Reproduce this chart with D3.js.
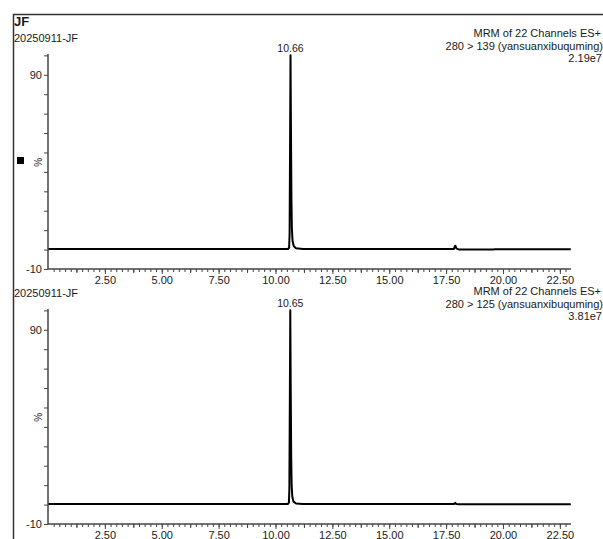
<!DOCTYPE html>
<html>
<head>
<meta charset="utf-8">
<script src="https://cdn.jsdelivr.net/npm/d3@7/dist/d3.min.js"></script>
<style>
  html, body { margin: 0; padding: 0; background: #fff; }
  svg { display: block; font-family: "Liberation Sans", Arial, sans-serif; }
</style>
</head>
<body>
<svg id="chart" width="603" height="539"></svg>
<script>
// Sample header
const sampleTitle = "JF";
const sampleName = "20250911-JF";

// Channel descriptions, one per trace
const channelHeads = ["MRM of 22 Channels ES+", "MRM of 22 Channels ES+"];
const channelTransitions = ["280 > 139 (yansuanxibuquming)", "280 > 125 (yansuanxibuquming)"];
const channelMaxima = ["2.19e7", "3.81e7"];
const peakLabels = ["10.66", "10.65"];
const peakTimes = [10.66, 10.65];

// Trace 1: retention time (min) and relative intensity (%)
const trace1Time = [0.02, 10.55, 10.60, 10.62, 10.64, 10.66, 10.68, 10.70, 10.72, 10.75, 10.80, 10.90, 11.20, 17.84, 17.88, 17.91, 17.95, 18.05, 19.60, 19.63, 22.98];
const trace1Pct  = [0.3,  0.3,   1.0,   8.0,   52,    100,   62,    27,    11,    4.5,   1.8,   0.7,   0.3,   0.3,   1.6,   2.0,   0.6,   0.1,   0.1,   0.2,   0.2];

// Trace 2: retention time (min) and relative intensity (%)
const trace2Time = [0.02, 10.54, 10.59, 10.61, 10.63, 10.65, 10.67, 10.69, 10.71, 10.74, 10.79, 10.90, 11.20, 17.85, 17.90, 17.95, 18.05, 22.98];
const trace2Pct  = [0.3,  0.3,   1.0,   8.0,   52,    100,   60,    25,    10,    4.0,   1.5,   0.6,   0.3,   0.3,   0.9,   0.3,   0.2,   0.2];

// Axis ticks
const xMajorTicks = [2.5, 5, 7.5, 10, 12.5, 15, 17.5, 20, 22.5];
const xMidTicks = [1.25, 3.75, 6.25, 8.75, 11.25, 13.75, 16.25, 18.75, 21.25];
const xMinorTicks = d3.range(0.25, 23.0, 0.25);
const yTicks = [-10, 0, 10, 20, 30, 40, 50, 60, 70, 80, 90, 100];
const yLabelled = [-10, 90];

const traces = [
  { time: trace1Time, pct: trace1Pct },
  { time: trace2Time, pct: trace2Pct }
];

const svg = d3.select("#chart");
const ink = "#1a1a1a";

// Outer frame (top and left edges)
svg.append("path")
  .attr("d", "M13.5,540 L13.5,14.5 L604,14.5")
  .attr("fill", "none")
  .attr("stroke", "#333")
  .attr("stroke-width", 1.5);

svg.append("text")
  .attr("x", 14).attr("y", 26)
  .attr("font-size", 13).attr("font-weight", "bold").attr("fill", ink)
  .text(sampleTitle);

// Marker square beside the first panel
svg.append("rect")
  .attr("x", 17).attr("y", 157).attr("width", 7).attr("height", 7)
  .attr("fill", "#000");

const x = d3.scaleLinear().domain([0, 22.99]).range([48, 571]);
const panelOffsets = [0, 255];
const headerShift = [0, 3];

traces.forEach((tr, i) => {
  const off = panelOffsets[i];
  const hs = off + headerShift[i];
  const y = d3.scaleLinear().domain([-10, 100.7]).range([269 + off, 54 + off]);
  const g = svg.append("g");

  // Headers
  g.append("text")
    .attr("x", 14).attr("y", 42 + off)
    .attr("font-size", 11).attr("fill", ink)
    .text(sampleName);

  const right = g.append("g").attr("font-size", 11).attr("fill", ink).attr("text-anchor", "end");
  right.append("text").attr("x", 601).attr("y", 37 + hs).text(channelHeads[i]);
  right.append("text").attr("x", 603).attr("y", 50 + hs).text(channelTransitions[i]);
  right.append("text").attr("x", 602).attr("y", 62 + hs).text(channelMaxima[i]);

  // Y axis
  const yAxis = d3.axisLeft(y)
    .tickValues(yTicks)
    .tickSize(4)
    .tickPadding(2)
    .tickFormat(d => yLabelled.includes(d) ? String(d) : "");
  const ya = g.append("g").attr("transform", `translate(${x.range()[0]},0)`).call(yAxis);
  ya.select(".domain").attr("d", `M0,${y(-10)}V${y(100.7)}`);

  g.append("text")
    .attr("transform", `translate(${39},${y(45)}) rotate(-90)`)
    .attr("text-anchor", "middle").attr("dominant-baseline", "middle")
    .attr("font-size", 10).attr("fill", ink)
    .text("%");

  // X axis: minor, mid and labelled ticks
  const base = y(-10);
  g.append("g").attr("transform", `translate(0,${base})`)
    .call(d3.axisBottom(x).tickValues(xMinorTicks).tickSize(3).tickFormat(""))
    .call(a => a.select(".domain").remove());
  g.append("g").attr("transform", `translate(0,${base})`)
    .call(d3.axisBottom(x).tickValues(xMidTicks).tickSize(4).tickFormat(""))
    .call(a => a.select(".domain").remove());
  const xa = g.append("g").attr("transform", `translate(0,${base})`)
    .call(d3.axisBottom(x).tickValues(xMajorTicks).tickSize(5).tickPadding(2).tickFormat(d3.format(".2f")));
  xa.select(".domain").attr("d", `M${x.range()[0]},0H${x.range()[1]}`);

  svg.selectAll(".tick text").attr("font-size", 11).attr("fill", ink).attr("font-family", "Liberation Sans, Arial, sans-serif");
  svg.selectAll(".tick line, .domain").attr("stroke", "#444");
  svg.selectAll(".domain").attr("stroke-width", 1.5);

  // Chromatogram trace
  const pts = tr.time.map((t, k) => [t, tr.pct[k]]);
  g.append("path")
    .datum(pts)
    .attr("fill", "none")
    .attr("stroke", "#000")
    .attr("stroke-width", 2)
    .attr("stroke-linejoin", "round")
    .attr("d", d3.line().x(d => x(d[0])).y(d => y(d[1])));

  // Apex label
  g.append("text")
    .attr("x", x(peakTimes[i])).attr("y", y(100) - 3)
    .attr("text-anchor", "middle")
    .attr("font-size", 10.5).attr("fill", ink)
    .text(peakLabels[i]);
});
</script>
</body>
</html>
